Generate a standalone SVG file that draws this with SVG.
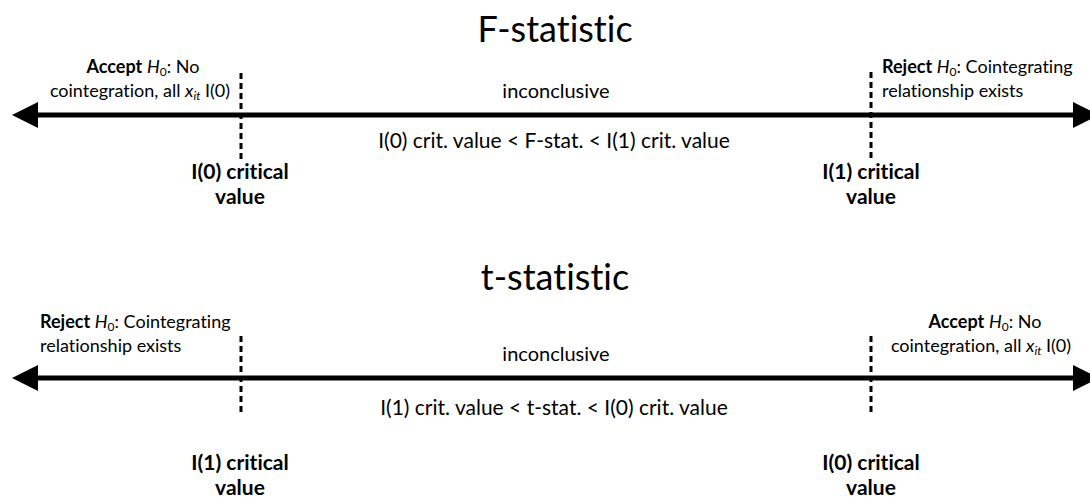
<svg xmlns="http://www.w3.org/2000/svg" width="1090" height="498" viewBox="0 0 1090 498">
<style>
text{font-family:Lato,"Open Sans","DejaVu Sans",sans-serif;fill:#000;font-variant-ligatures:none}
.title{font-size:36px;text-anchor:middle}
.mid{font-size:20px;text-anchor:middle}
.rng{font-size:21px;text-anchor:middle}
.crit{font-size:21px;font-weight:bold;text-anchor:middle}
.side{font-size:18px}
.b{font-weight:bold}
.i{font-style:italic}
.sub{font-size:12px}
.axis{stroke:#000;stroke-width:5;fill:none}
.dash{stroke:#000;stroke-width:3;stroke-dasharray:6 4;fill:none}
.head{fill:#000}
</style>
<rect width="1090" height="498" fill="#fff"/>
<g id="connectors">
<line class="axis" x1="30" y1="115" x2="1080" y2="115"/>
<polygon class="head" points="12,115 38,102 38,128"/>
<polygon class="head" points="1099,115 1073,102 1073,128"/>
<line class="dash" x1="241" y1="73" x2="241" y2="160"/>
<line class="dash" x1="871" y1="72" x2="871" y2="160"/>
<line class="axis" x1="30" y1="378" x2="1080" y2="378"/>
<polygon class="head" points="12,378 38,365 38,391"/>
<polygon class="head" points="1099,378 1073,365 1073,391"/>
<line class="dash" x1="241" y1="336" x2="241" y2="412"/>
<line class="dash" x1="871" y1="336" x2="871" y2="412"/>
</g>
<g id="f-title"><text class="title" x="555" y="42">F-statistic</text></g>
<g id="f-accept">
<text class="side" x="143" y="73" text-anchor="middle"><tspan class="b">Accept</tspan> <tspan class="i">H</tspan><tspan class="sub" dy="3">0</tspan><tspan dy="-3">: No</tspan></text>
<text class="side" x="140" y="97" text-anchor="middle">cointegration, all <tspan class="i">x</tspan><tspan class="i sub" dy="3">it</tspan><tspan dy="-3"> I(0)</tspan></text>
</g>
<g id="f-inconclusive">
<text class="mid" x="556" y="98">inconclusive</text>
<text class="rng" x="554" y="148">I(0) crit. value &lt; F-stat. &lt; I(1) crit. value</text>
</g>
<g id="f-reject">
<text class="side" x="882" y="73"><tspan class="b">Reject</tspan> <tspan class="i">H</tspan><tspan class="sub" dy="3">0</tspan><tspan dy="-3">: Cointegrating</tspan></text>
<text class="side" x="882" y="97">relationship exists</text>
</g>
<g id="f-crit0"><text class="crit" x="240" y="179">I(0) critical</text><text class="crit" x="240" y="204">value</text></g>
<g id="f-crit1"><text class="crit" x="871" y="179">I(1) critical</text><text class="crit" x="871" y="204">value</text></g>
<g id="t-title"><text class="title" x="555" y="290">t-statistic</text></g>
<g id="t-reject">
<text class="side" x="40" y="328"><tspan class="b">Reject</tspan> <tspan class="i">H</tspan><tspan class="sub" dy="3">0</tspan><tspan dy="-3">: Cointegrating</tspan></text>
<text class="side" x="40" y="352">relationship exists</text>
</g>
<g id="t-inconclusive">
<text class="mid" x="556" y="361">inconclusive</text>
<text class="rng" x="554" y="415">I(1) crit. value &lt; t-stat. &lt; I(0) crit. value</text>
</g>
<g id="t-accept">
<text class="side" x="985" y="328" text-anchor="middle"><tspan class="b">Accept</tspan> <tspan class="i">H</tspan><tspan class="sub" dy="3">0</tspan><tspan dy="-3">: No</tspan></text>
<text class="side" x="981" y="352" text-anchor="middle">cointegration, all <tspan class="i">x</tspan><tspan class="i sub" dy="3">it</tspan><tspan dy="-3"> I(0)</tspan></text>
</g>
<g id="t-crit1"><text class="crit" x="240" y="470">I(1) critical</text><text class="crit" x="240" y="495">value</text></g>
<g id="t-crit0"><text class="crit" x="871" y="470">I(0) critical</text><text class="crit" x="871" y="495">value</text></g>
</svg>
